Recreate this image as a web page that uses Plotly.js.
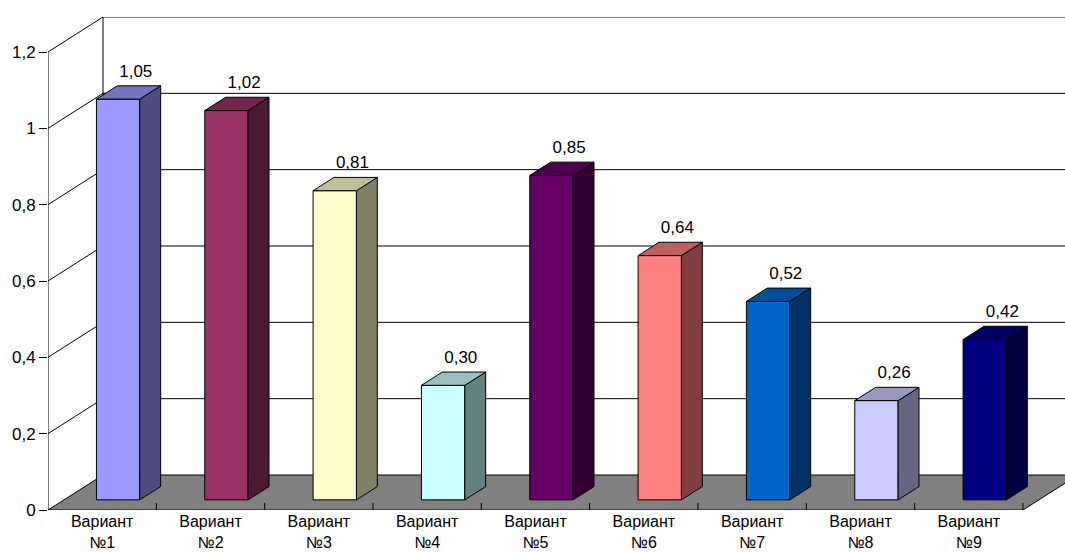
<!DOCTYPE html>
<html>
<head>
<meta charset="utf-8">
<script src="https://cdn.plot.ly/plotly-3.0.1.min.js"></script>
<style>html,body{margin:0;padding:0;background:#fff}#chart{width:1065px;height:552px}</style>
</head>
<body>
<div id="chart"></div>
<script>
// ---- data ----
const categories = ['Вариант №1','Вариант №2','Вариант №3','Вариант №4','Вариант №5','Вариант №6','Вариант №7','Вариант №8','Вариант №9'];
const values = [1.05, 1.02, 0.81, 0.30, 0.85, 0.64, 0.52, 0.26, 0.42];
const colors = ['#9999FF','#993366','#FFFFCC','#CCFFFF','#660066','#FF8080','#0066CC','#CCCCFF','#000080'];
const yTicks = [0, 0.2, 0.4, 0.6, 0.8, 1.0, 1.2];

// ---- geometry (3D look) ----
const W = 1065, H = 552;
const M = {l: 48, r: 0, t: 17, b: 42};
const n = categories.length;
const yMax = yTicks[yTicks.length - 1];
const pxPerCat = 108.33;              // horizontal pixels per category
const pxPerUnit = 381.67;             // vertical pixels per value unit
const depthPx = [55, 35];             // full depth offset (right, up) in px
const xRange = [0, (W - M.l - M.r) / pxPerCat];
const yRange = [0, (H - M.t - M.b) / pxPerUnit];
const DX = depthPx[0] / pxPerCat;
const DY = depthPx[1] / pxPerUnit;
const d0 = 0.29, d1 = 0.67;           // bar front/back depth fraction
const barL = 0.3, barR = 0.7;         // bar extent within category
const FONT = 'Liberation Sans, Arial, sans-serif';

function shade(hex, f) {
  const r = parseInt(hex.slice(1,3),16), g = parseInt(hex.slice(3,5),16), b = parseInt(hex.slice(5,7),16);
  const c = v => Math.round(v * f).toString(16).padStart(2,'0');
  return '#' + c(r) + c(g) + c(b);
}
function poly(xs, ys, fill, lw) {
  return {type:'scatter', mode:'lines', x: xs.concat([xs[0]]), y: ys.concat([ys[0]]),
    fill:'toself', fillcolor: fill, line:{color:'#000', width: lw === undefined ? 1 : lw},
    hoverinfo:'skip', showlegend:false};
}
function seg(xs, ys, color) {
  return {type:'scatter', mode:'lines', x: xs, y: ys, line:{color: color || '#000', width:1},
    hoverinfo:'skip', showlegend:false};
}

const traces = [];
// floor
traces.push(poly([0, n, n + DX, DX], [0, 0, DY, DY], '#808080'));
// back wall gridlines + side wall diagonals
yTicks.forEach(v => {
  if (v > 0) {
    traces.push(seg([DX, xRange[1]], [v + DY, v + DY], '#000'));
    traces.push(seg([0, DX], [v, v + DY], '#000'));
  }
});
// back wall left edge and front value axis
traces.push(seg([DX, DX], [DY, yMax + DY]));
traces.push(seg([0, 0], [0, yMax]));
// category separator ticks on floor front edge
for (let k = 1; k <= n; k++) traces.push(seg([k, k], [0, 7 / pxPerUnit]));

// bars
const lx = [], ly = [], lt = [];
values.forEach((v, i) => {
  const x0 = i + barL + d0 * DX, x1 = i + barR + d0 * DX;
  const yb = d0 * DY, yt = v + d0 * DY;
  const ddx = (d1 - d0) * DX, ddy = (d1 - d0) * DY;
  traces.push(poly([x0, x1, x1, x0], [yb, yb, yt, yt], colors[i]));
  traces.push(poly([x1, x1 + ddx, x1 + ddx, x1], [yb, yb + ddy, yt + ddy, yt], shade(colors[i], 0.5)));
  traces.push(poly([x0, x1, x1 + ddx, x0 + ddx], [yt, yt, yt + ddy, yt + ddy], shade(colors[i], 0.75)));
  lx.push(i + 0.5 + d1 * DX - 0.03);
  ly.push(v + d1 * DY + 5 / pxPerUnit);
  lt.push(v.toFixed(2).replace('.', ','));
});
traces.push({type:'scatter', mode:'text', x: lx, y: ly, text: lt, textposition:'top center',
  textfont:{family: FONT, size:17, color:'#000'},
  hoverinfo:'skip', showlegend:false, cliponaxis:false});

const layout = {
  width: W, height: H,
  margin: M,
  paper_bgcolor:'#fff', plot_bgcolor:'#fff',
  font:{family: FONT, size:17, color:'#000'},
  showlegend:false,
  hovermode:false,
  xaxis:{range: xRange, showgrid:false, zeroline:false, showline:false, ticks:'',
    tickmode:'array', tickvals: categories.map((c, i) => i + 0.5),
    ticktext: categories.map(c => c.replace(' ', '<br>')),
    tickfont:{family: FONT, size:16}, fixedrange:true},
  yaxis:{range: yRange, showgrid:false, zeroline:false, showline:false,
    ticks:'outside', ticklen:8, tickcolor:'#000', tickwidth:1,
    tickmode:'array', tickvals: yTicks, ticktext: yTicks.map(v => String(+v.toFixed(1)).replace('.', ',')),
    tickfont:{family: FONT, size:17}, fixedrange:true}
};
Plotly.newPlot('chart', traces, layout, {displayModeBar:false, staticPlot:true});
</script>
</body>
</html>
